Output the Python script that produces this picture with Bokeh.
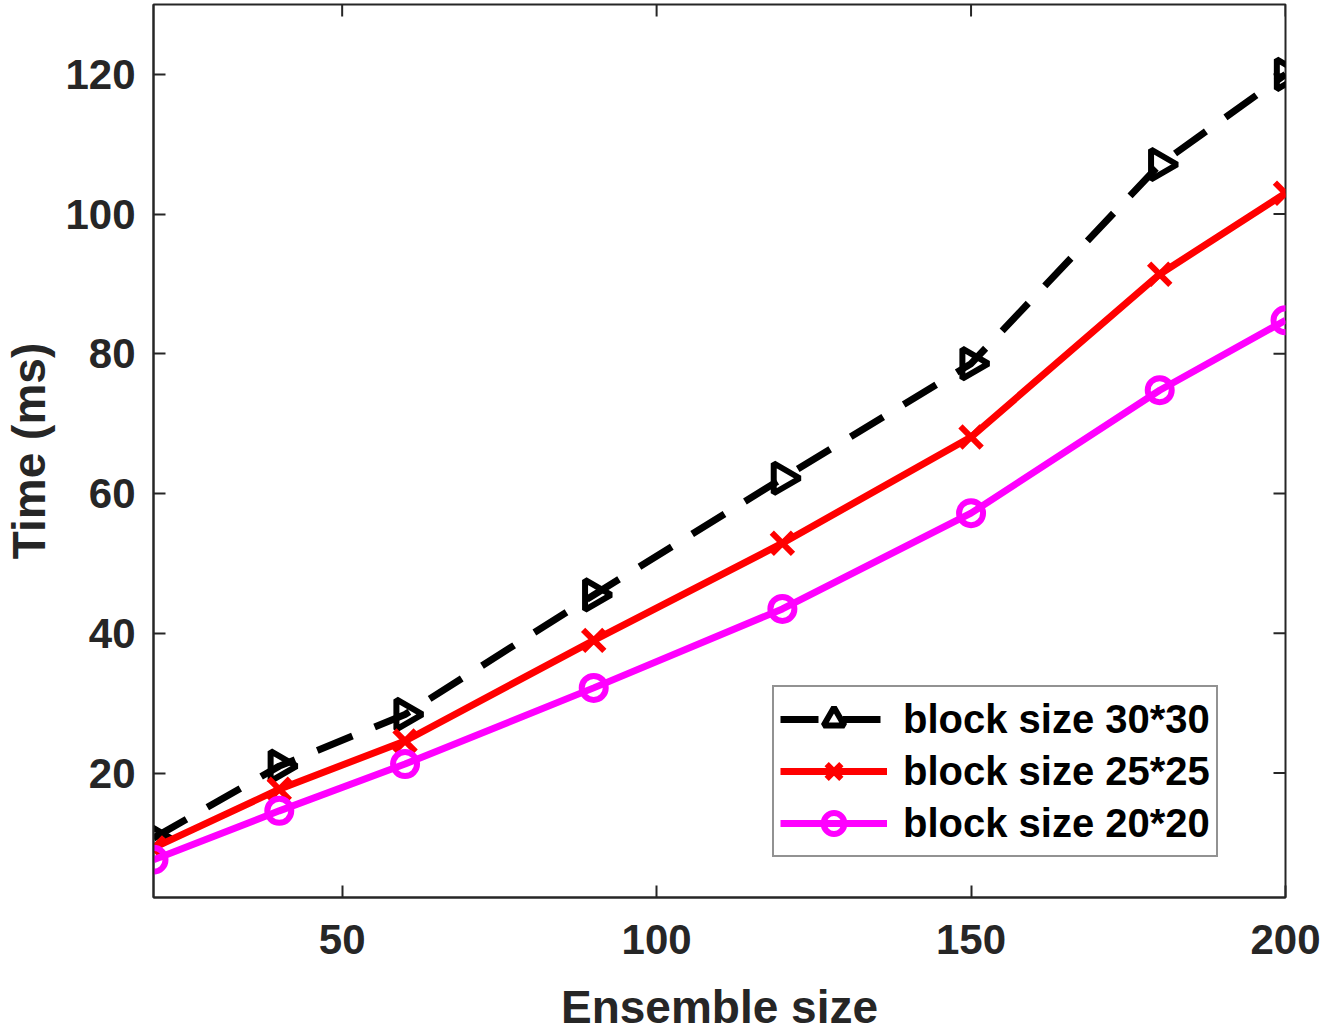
import numpy as np
from bokeh.plotting import figure
from bokeh.models import Range1d, Legend, LegendItem, FixedTicker
from bokeh.embed import file_html
from bokeh.resources import INLINE

# ---- data ----
ensemble = [20, 40, 60, 90, 120, 150, 180, 200]
t_30 = [10.7, 21.0, 28.4, 45.5, 62.2, 78.6, 107.1, 120.0]
t_25 = [9.3, 17.7, 24.6, 39.0, 52.9, 68.1, 91.4, 103.0]
t_20 = [7.6, 14.6, 21.3, 32.2, 43.5, 57.2, 74.8, 84.8]
labels = ["block size 30*30", "block size 25*25", "block size 20*20"]
x_ticks = [50, 100, 150, 200]
y_ticks = [20, 40, 60, 80, 100, 120]
x_lim = (20, 200)
y_lim = (2.2, 130)

FONT = "Liberation Sans"
AX = "#262626"

p = figure(frame_width=1132, frame_height=893,
           x_range=Range1d(*x_lim), y_range=Range1d(*y_lim),
           output_backend="svg", toolbar_location=None,
           min_border_left=150, min_border_top=4, min_border_right=36, min_border_bottom=10)
p.xgrid.visible = False
p.ygrid.visible = False
p.outline_line_color = AX
p.outline_line_width = 2
p.background_fill_color = "white"

for ax, ticks in ((p.xaxis[0], x_ticks), (p.yaxis[0], y_ticks)):
    ax.ticker = FixedTicker(ticks=ticks)
    ax.axis_line_color = AX
    ax.axis_line_width = 2
    ax.major_tick_line_color = AX
    ax.major_tick_line_width = 2
    ax.major_tick_in = 12
    ax.major_tick_out = 0
    ax.minor_tick_line_color = None
    ax.major_label_text_font = FONT
    ax.major_label_text_font_style = "bold"
    ax.major_label_text_color = AX
    ax.major_label_text_font_size = "42px"
    ax.axis_label_text_font = FONT
    ax.axis_label_text_font_style = "bold"
    ax.axis_label_text_font_size = "46px"
    ax.axis_label_text_color = AX
    ax.axis_label_text_line_height = 1.0

p.xaxis[0].axis_label = "Ensemble size"
p.yaxis[0].axis_label = "Time (ms)"
p.xaxis[0].major_label_standoff = 27
p.xaxis[0].axis_label_standoff = 24
p.yaxis[0].major_label_standoff = 18
p.yaxis[0].axis_label_standoff = 7

# mirrored ticks on the top and right edges of the box (clipped half-dashes)
p.scatter([x_lim[1]] * len(y_ticks), y_ticks, marker="dash", size=24,
          line_color=AX, line_width=2)
p.scatter(x_ticks, [y_lim[1]] * len(x_ticks), marker="dash", angle=np.pi / 2,
          size=24, line_color=AX, line_width=2)

LW = 7
l1 = p.line(ensemble, t_30, line_color="black", line_width=LW, line_dash="38 24")
m1 = p.scatter(ensemble, t_30, marker="triangle", angle=-np.pi / 2, size=30,
               line_color="black", line_width=6, fill_color=None)
l2 = p.line(ensemble, t_25, line_color="red", line_width=LW)
m2 = p.scatter(ensemble, t_25, marker="x", size=30, line_color="red", line_width=6)
l3 = p.line(ensemble, t_20, line_color="magenta", line_width=LW)
m3 = p.scatter(ensemble, t_20, marker="circle", size=24, line_color="magenta",
               line_width=6, fill_color=None)

legend = Legend(items=[LegendItem(label=labels[0], renderers=[l1, m1]),
                       LegendItem(label=labels[1], renderers=[l2, m2]),
                       LegendItem(label=labels[2], renderers=[l3, m3])],
                location=(619, 40))
legend.label_text_font = FONT
legend.label_text_font_style = "bold"
legend.label_text_font_size = "40px"
legend.label_text_color = "black"
legend.glyph_width = 107
legend.glyph_height = 52
legend.label_height = 52
legend.spacing = 0
legend.padding = 6
legend.margin = 0
legend.label_standoff = 16
legend.border_line_color = AX
legend.border_line_width = 2
legend.background_fill_color = "white"
legend.background_fill_alpha = 1
p.add_layout(legend, "center")

open("out.html", "w").write(file_html(p, INLINE))
